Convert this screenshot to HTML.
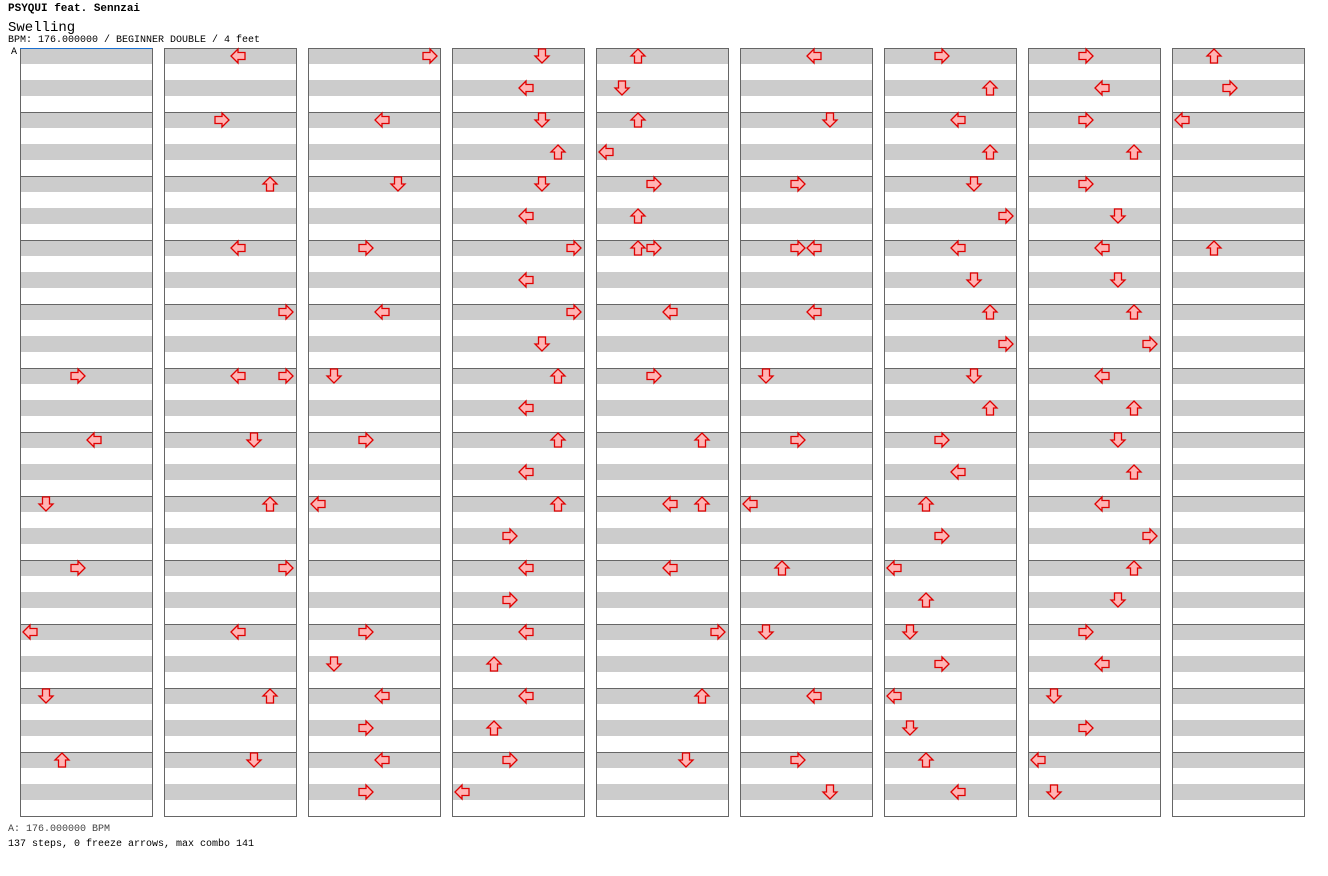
<!DOCTYPE html>
<html><head><meta charset="utf-8"><style>
body{margin:0;background:#fff;width:1328px;height:876px;overflow:hidden;font-family:"Liberation Mono",monospace;}
.t{position:absolute;left:8px;white-space:nowrap;color:#000}
</style></head><body>
<div class="t" style="top:3px;font-size:11px;font-weight:bold">PSYQUI feat. Sennzai</div>
<div class="t" style="top:20px;font-size:14px">Swelling</div>
<div class="t" style="top:35px;font-size:10px">BPM: 176.000000 / BEGINNER DOUBLE / 4 feet</div>
<div class="t" style="top:824px;font-size:10px;color:#444">A: 176.000000 BPM</div>
<div class="t" style="top:839px;font-size:10px">137 steps, 0 freeze arrows, max combo 141</div>
<div class="t" style="top:47px;left:11px;font-size:10px">A</div>
<svg id="s" width="1328" height="876" style="position:absolute;left:0;top:0"></svg>
<script>
var s='';
for(var c=0;c<9;c++){var x=20+144*c;
 for(var m=0;m<12;m++){var y=48+64*m;
  s+='<rect x="'+x+'" y="'+y+'" width="132" height="16" fill="#cccccc"/><rect x="'+x+'" y="'+(y+32)+'" width="132" height="16" fill="#cccccc"/>';
  s+='<line x1="'+x+'" y1="'+(y+.5)+'" x2="'+(x+132)+'" y2="'+(y+.5)+'" stroke="#666"/>';}
 s+='<rect x="'+(x+.5)+'" y="48.5" width="132" height="768" fill="none" stroke="#666"/>';}
s+='<line x1="20" y1="48.5" x2="152" y2="48.5" stroke="#1a6fd0"/>';
var rot={L:0,D:-90,U:90,R:180},lane={L:0,D:1,U:2,R:3};
var d=[
[[376,'R',0],[440,'L',1],[504,'D',0],[568,'R',0],[632,'L',0],[696,'D',0],[760,'U',0]],
[[56,'L',1],[120,'R',0],[184,'U',1],[248,'L',1],[312,'R',1],[376,'L',1],[376,'R',1],[440,'D',1],[504,'U',1],[568,'R',1],[632,'L',1],[696,'U',1],[760,'D',1]],
[[56,'R',1],[120,'L',1],[184,'D',1],[248,'R',0],[312,'L',1],[376,'D',0],[440,'R',0],[504,'L',0],[632,'R',0],[664,'D',0],[696,'L',1],[728,'R',0],[760,'L',1],[792,'R',0]],
[[56,'D',1],[88,'L',1],[120,'D',1],[152,'U',1],[184,'D',1],[216,'L',1],[248,'R',1],[280,'L',1],[312,'R',1],[344,'D',1],[376,'U',1],[408,'L',1],[440,'U',1],[472,'L',1],[504,'U',1],[536,'R',0],[568,'L',1],[600,'R',0],[632,'L',1],[664,'U',0],[696,'L',1],[728,'U',0],[760,'R',0],[792,'L',0]],
[[56,'U',0],[88,'D',0],[120,'U',0],[152,'L',0],[184,'R',0],[216,'U',0],[248,'U',0],[248,'R',0],[312,'L',1],[376,'R',0],[440,'U',1],[504,'L',1],[504,'U',1],[568,'L',1],[632,'R',1],[696,'U',1],[760,'D',1]],
[[56,'L',1],[120,'D',1],[184,'R',0],[248,'R',0],[248,'L',1],[312,'L',1],[376,'D',0],[440,'R',0],[504,'L',0],[568,'U',0],[632,'D',0],[696,'L',1],[760,'R',0],[792,'D',1]],
[[56,'R',0],[88,'U',1],[120,'L',1],[152,'U',1],[184,'D',1],[216,'R',1],[248,'L',1],[280,'D',1],[312,'U',1],[344,'R',1],[376,'D',1],[408,'U',1],[440,'R',0],[472,'L',1],[504,'U',0],[536,'R',0],[568,'L',0],[600,'U',0],[632,'D',0],[664,'R',0],[696,'L',0],[728,'D',0],[760,'U',0],[792,'L',1]],
[[56,'R',0],[88,'L',1],[120,'R',0],[152,'U',1],[184,'R',0],[216,'D',1],[248,'L',1],[280,'D',1],[312,'U',1],[344,'R',1],[376,'L',1],[408,'U',1],[440,'D',1],[472,'U',1],[504,'L',1],[536,'R',1],[568,'U',1],[600,'D',1],[632,'R',0],[664,'L',1],[696,'D',0],[728,'R',0],[760,'L',0],[792,'D',0]],
[[56,'U',0],[88,'R',0],[120,'L',0],[248,'U',0]]];
for(var c=0;c<9;c++)d[c].forEach(function(a){
 var x=30+144*c+16*(lane[a[1]]+4*a[2]),y=a[0];
 s+='<polygon transform="translate('+x+','+y+') rotate('+rot[a[1]]+')" points="-7,0 0,-7 0,-3.5 7,-3.5 7,3.5 0,3.5 0,7" fill="#ffb4b4" stroke="#e00000" stroke-width="1.3"/>';});
document.getElementById('s').innerHTML=s;
</script>
</body></html>
